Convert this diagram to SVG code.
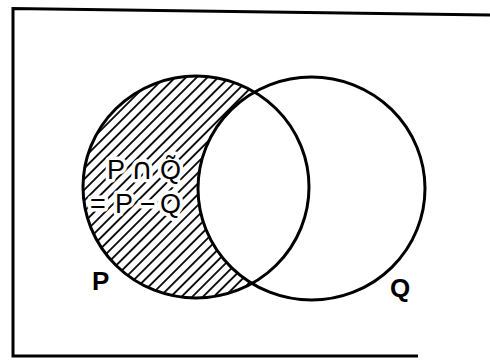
<svg xmlns="http://www.w3.org/2000/svg" width="490" height="362" viewBox="0 0 490 362">
<style>
.ring{fill:none;stroke:#000;stroke-width:3}
.lbl{font-family:"Liberation Sans",Arial,sans-serif;font-size:26px;fill:#000}
.inner{font-family:"Liberation Sans","DejaVu Sans",Arial,sans-serif;font-size:27px;fill:#000;stroke:#fff;stroke-width:7;paint-order:stroke;stroke-linejoin:round}
.cap{font-family:"DejaVu Sans",sans-serif;font-size:30px}
</style>
<defs>
<pattern id="hatch" patternUnits="userSpaceOnUse" width="20" height="7.6" patternTransform="rotate(-45)">
<line x1="0" y1="3.8" x2="20" y2="3.8" stroke="#000" stroke-width="1.8"/>
</pattern>
<mask id="pMinusQ">
<ellipse cx="196" cy="187" rx="113" ry="111" fill="#fff"/>
<ellipse cx="311.5" cy="188.5" rx="113.5" ry="111.5" fill="#000"/>
</mask>
</defs>
<rect width="490" height="362" fill="#fff"/>
<path d="M490,15 L13,8.5 L13,356 L418,356" fill="none" stroke="#000" stroke-width="3"/>
<g id="region">
<rect x="70" y="60" width="260" height="260" fill="url(#hatch)" mask="url(#pMinusQ)"/>
<text class="inner" y="179"><tspan x="107">P</tspan><tspan class="cap" x="131">∩</tspan><tspan x="160">Q̃</tspan></text>
<text class="inner" x="90 115 140 160" y="213">=P−Q</text>
</g>
<g id="P">
<ellipse class="ring" cx="196" cy="187" rx="113" ry="111"/>
<text class="lbl" x="92" y="290" font-weight="bold">P</text>
</g>
<g id="Q">
<ellipse class="ring" cx="311.5" cy="188.5" rx="113.5" ry="111.5"/>
<text class="lbl" x="390" y="297" font-weight="bold">Q</text>
</g>
</svg>
